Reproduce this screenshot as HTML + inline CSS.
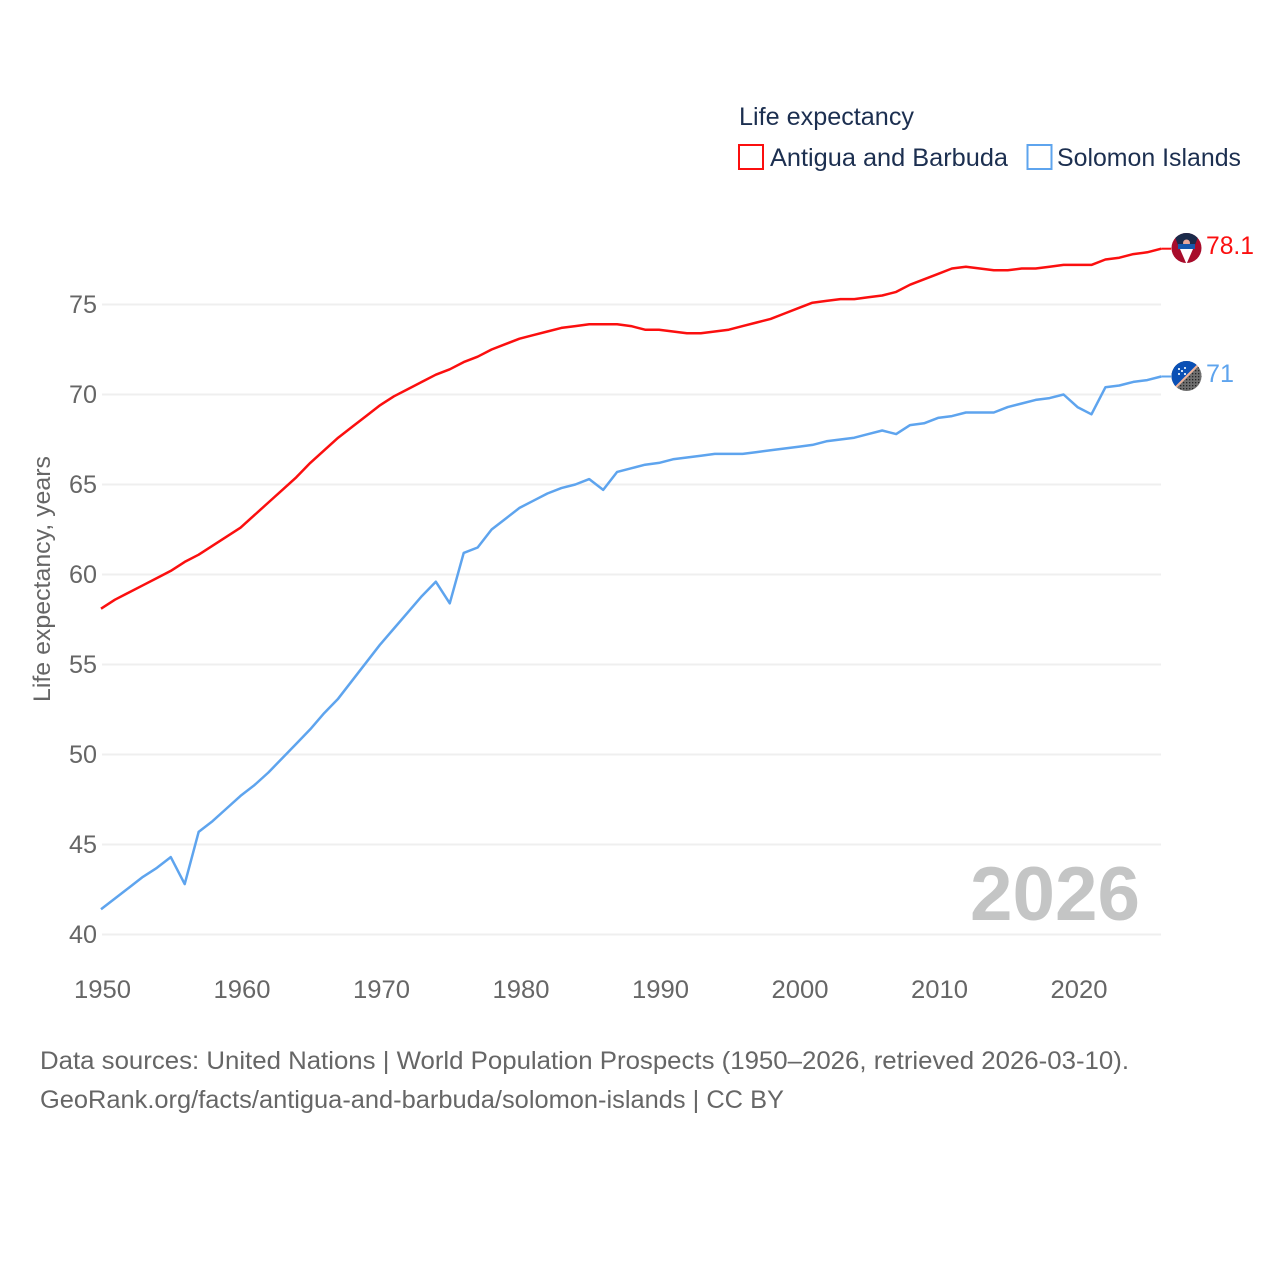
<!DOCTYPE html>
<html lang="en">
<head>
<meta charset="utf-8">
<title>Life expectancy: Antigua and Barbuda vs Solomon Islands</title>
<style>
html,body{margin:0;padding:0;background:#fff;width:1280px;height:1280px;overflow:hidden}
svg{display:block}
text{font-family:"Liberation Sans",sans-serif}
</style>
</head>
<body>
<svg id="chart" xmlns="http://www.w3.org/2000/svg" width="1280" height="1280" viewBox="0 0 1280 1280">
  <defs>
    <pattern id="dots" width="3" height="3" patternUnits="userSpaceOnUse">
      <rect width="3" height="3" fill="#6f6f6f"/>
      <rect x="1" y="1" width="1.3" height="1.3" fill="#262626"/>
    </pattern>
    <clipPath id="clip-ag"><circle cx="1186.500" cy="248" r="15"/></clipPath>
    <clipPath id="clip-sb"><circle cx="1186.500" cy="376" r="15"/></clipPath>
  </defs>
  <rect width="1280" height="1280" fill="#fff"/>

  <g id="grid"></g>
  <g id="ytick-labels"></g>
  <g id="xtick-labels"></g>

  <text transform="translate(50,702) rotate(-90)" font-size="24" fill="#666" textLength="246" lengthAdjust="spacingAndGlyphs">Life expectancy, years</text>

  <text x="970" y="920" font-size="76" font-weight="700" fill="#c4c5c5" textLength="170" lengthAdjust="spacingAndGlyphs">2026</text>

  <g id="series"></g>

  <g clip-path="url(#clip-ag)">
    <rect x="1171" y="233" width="31" height="31" fill="#a80c2b"/>
    <polygon points="1173,232 1200,232 1195,245 1178,245" fill="#1b2a4a"/>
    <circle cx="1186.500" cy="243" r="3.500" fill="#e9a89a"/>
    <rect x="1178" y="244" width="17" height="5" fill="#1557ad"/>
    <polygon points="1180,249 1193,249 1186.500,264" fill="#fff"/>
  </g>
  <g clip-path="url(#clip-sb)">
    <rect x="1171" y="360" width="32" height="32" fill="url(#dots)"/>
    <polygon points="1171,360 1202,360 1171,391" fill="#0a50b5"/>
    <line x1="1174" y1="389" x2="1200" y2="363" stroke="#f0b49a" stroke-width="2"/>
    <g fill="#cfe0f5">
      <rect x="1178" y="368" width="2" height="2"/>
      <rect x="1184" y="367" width="2" height="2"/>
      <rect x="1181" y="370" width="2" height="2"/>
      <rect x="1178" y="373" width="2" height="2"/>
      <rect x="1184" y="373" width="2" height="2"/>
    </g>
  </g>

  <text x="1206" y="254" font-size="25" fill="#fb0f0f" textLength="48" lengthAdjust="spacingAndGlyphs">78.1</text>
  <text x="1206" y="382" font-size="25" fill="#5ea4ee" textLength="28" lengthAdjust="spacingAndGlyphs">71</text>

  <g>
    <text x="739" y="125" font-size="25" fill="#1c2f50" textLength="175" lengthAdjust="spacingAndGlyphs">Life expectancy</text>
    <rect x="739" y="145" width="24" height="24" fill="none" stroke="#fb0f0f" stroke-width="2"/>
    <text x="770" y="166" font-size="25" fill="#1c2f50" textLength="238" lengthAdjust="spacingAndGlyphs">Antigua and Barbuda</text>
    <rect x="1027.500" y="145" width="24" height="24" fill="none" stroke="#5ea4ee" stroke-width="2"/>
    <text x="1057" y="166" font-size="25" fill="#1c2f50" textLength="184" lengthAdjust="spacingAndGlyphs">Solomon Islands</text>
  </g>

  <text x="40" y="1069" font-size="25" fill="#666" textLength="1089" lengthAdjust="spacingAndGlyphs">Data sources: United Nations | World Population Prospects (1950–2026, retrieved 2026-03-10).</text>
  <text x="40" y="1108" font-size="25" fill="#666" textLength="744" lengthAdjust="spacingAndGlyphs">GeoRank.org/facts/antigua-and-barbuda/solomon-islands | CC BY</text>
</svg>

<script>
const startYear = 1950;
const xTickLabels = [1950, 1960, 1970, 1980, 1990, 2000, 2010, 2020];
const yTickLabels = [40, 45, 50, 55, 60, 65, 70, 75];
const antiguaValues = [
  58.1,58.6,59.0,59.4,59.8,60.2,60.7,61.1,61.6,62.1,
  62.6,63.3,64.0,64.7,65.4,66.2,66.9,67.6,68.2,68.8,
  69.4,69.9,70.3,70.7,71.1,71.4,71.8,72.1,72.5,72.8,
  73.1,73.3,73.5,73.7,73.8,73.9,73.9,73.9,73.8,73.6,
  73.6,73.5,73.4,73.4,73.5,73.6,73.8,74.0,74.2,74.5,
  74.8,75.1,75.2,75.3,75.3,75.4,75.5,75.7,76.1,76.4,
  76.7,77.0,77.1,77.0,76.9,76.9,77.0,77.0,77.1,77.2,
  77.2,77.2,77.5,77.6,77.8,77.9,78.1
];
const solomonValues = [
  41.4,42.0,42.6,43.2,43.7,44.3,42.8,45.7,46.3,47.0,
  47.7,48.3,49.0,49.8,50.6,51.4,52.3,53.1,54.1,55.1,
  56.1,57.0,57.9,58.8,59.6,58.4,61.2,61.5,62.5,63.1,
  63.7,64.1,64.5,64.8,65.0,65.3,64.7,65.7,65.9,66.1,
  66.2,66.4,66.5,66.6,66.7,66.7,66.7,66.8,66.9,67.0,
  67.1,67.2,67.4,67.5,67.6,67.8,68.0,67.8,68.3,68.4,
  68.7,68.8,69.0,69.0,69.0,69.3,69.5,69.7,69.8,70.0,
  69.3,68.9,70.4,70.5,70.7,70.8,71.0
];

const SVG_NS = 'http://www.w3.org/2000/svg';
function xScale(year) { return 101 + (year - 1950) * 13.95; }
function yScale(value) { return 934.5 - (value - 40) * 18; }

const gridGroup = document.getElementById('grid');
const yGroup = document.getElementById('ytick-labels');
const xGroup = document.getElementById('xtick-labels');
const seriesGroup = document.getElementById('series');

yTickLabels.forEach(function (tick) {
  const line = document.createElementNS(SVG_NS, 'line');
  
  
  line.setAttribute('x1', 102);
  line.setAttribute('x2', 1161);
  line.setAttribute('y1', yScale(tick));
  line.setAttribute('y2', yScale(tick));
  line.setAttribute('stroke', '#efefef');
  line.setAttribute('stroke-width', 2);
  gridGroup.appendChild(line);

  const label = document.createElementNS(SVG_NS, 'text');
  
  
  label.setAttribute('x', 69);
  label.setAttribute('y', yScale(tick) + 8.5);
  label.setAttribute('font-size', 25);
  label.setAttribute('fill', '#666');
  label.setAttribute('textLength', 28);
  label.setAttribute('lengthAdjust', 'spacingAndGlyphs');
  label.textContent = tick;
  yGroup.appendChild(label);
});

xTickLabels.forEach(function (tick) {
  const label = document.createElementNS(SVG_NS, 'text');
  
  
  label.setAttribute('x', xScale(tick) - 27);
  label.setAttribute('y', 998);
  label.setAttribute('font-size', 25);
  label.setAttribute('fill', '#666');
  label.setAttribute('textLength', 57);
  label.setAttribute('lengthAdjust', 'spacingAndGlyphs');
  label.textContent = tick;
  xGroup.appendChild(label);
});

function drawSeries(values, color, seriesName) {
  const lastIndex = values.length - 1;
  const points = values.map(function (v, i) {
    return xScale(startYear + i).toFixed(2) + ',' + yScale(v).toFixed(2);
  });
  const path = document.createElementNS(SVG_NS, 'polyline');
  
  
  path.setAttribute('points', points.join(' '));
  path.setAttribute('fill', 'none');
  path.setAttribute('stroke', color);
  path.setAttribute('stroke-width', 2.5);
  path.setAttribute('stroke-linejoin', 'round');
  seriesGroup.appendChild(path);

  const connector = document.createElementNS(SVG_NS, 'line');
  
  
  connector.setAttribute('x1', xScale(startYear + lastIndex));
  connector.setAttribute('x2', xScale(startYear + lastIndex) + 10);
  connector.setAttribute('y1', yScale(values[lastIndex]));
  connector.setAttribute('y2', yScale(values[lastIndex]));
  connector.setAttribute('stroke', color);
  connector.setAttribute('stroke-width', 2);
  seriesGroup.appendChild(connector);
}

drawSeries(antiguaValues, '#fb0f0f', 'antigua-line');
drawSeries(solomonValues, '#5ea4ee', 'solomon-line');
</script>
</body>
</html>
